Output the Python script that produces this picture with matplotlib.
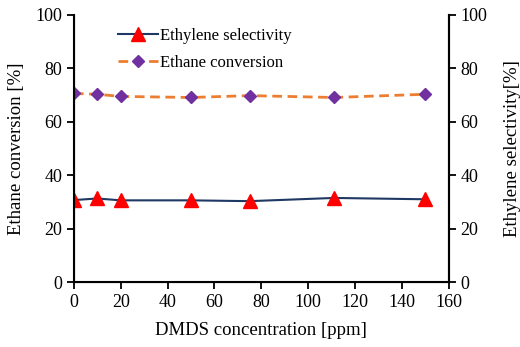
import matplotlib.pyplot as plt

plt.rcParams['font.family'] = ['Liberation Serif', 'DejaVu Serif']

dmds_ppm = [0, 10, 20, 50, 75, 111, 150]
ethylene_sel = [30.7, 31.3, 30.6, 30.6, 30.3, 31.5, 31.0]
ethane_conv = [70.6, 70.3, 69.5, 69.1, 69.8, 69.1, 70.3]

fig = plt.figure(figsize=(5.2, 3.47), dpi=100)
ax = fig.add_axes([0.142, 0.187, 0.721, 0.770])

ax.plot(dmds_ppm, ethylene_sel, color='#1F3864', lw=1.5, marker='^', ms=9.5,
        mfc='red', mec='red', label='Ethylene selectivity', zorder=3)
ax.plot(dmds_ppm, ethane_conv, color='#ED7D31', lw=2, ls=(0, (3.5, 2)), marker='D', ms=6.5,
        mfc='#7030A0', mec='#7030A0', label='Ethane conversion', zorder=3)

ax.set_xlim(0, 160)
ax.set_ylim(0, 100)
ax.set_xticks(range(0, 161, 20))
ax.set_yticks(range(0, 101, 20))
ax.spines['top'].set_visible(False)
for s in ['left', 'right', 'bottom']:
    ax.spines[s].set_linewidth(1.5)
ax.tick_params(direction='out', length=5, width=1.3, labelsize=13)
ax.set_xlabel('DMDS concentration [ppm]', fontsize=13.5, labelpad=8)
ax.set_ylabel('Ethane conversion [%]', fontsize=13.5, labelpad=7)

ax2 = ax.twinx()
ax2.set_ylim(0, 100)
ax2.set_yticks(range(0, 101, 20))
ax2.spines['top'].set_visible(False)
ax2.spines['right'].set_linewidth(1.5)
ax2.tick_params(direction='out', length=5, width=1.3, labelsize=13)
ax2.set_ylabel('Ethylene selectivity[%]', fontsize=13.5, labelpad=12)

ax.legend(loc='upper left', bbox_to_anchor=(0.10, 0.975), frameon=False, fontsize=12,
          handlelength=2.4, handletextpad=0.1, labelspacing=0.65, borderaxespad=0)

fig.savefig('out.png', dpi=100)
